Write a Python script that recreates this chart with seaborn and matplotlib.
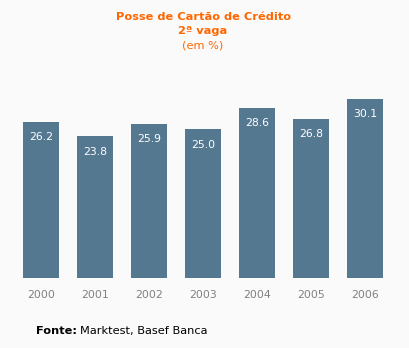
import matplotlib
matplotlib.use("Agg")
import matplotlib.pyplot as plt
import seaborn as sns
import pandas as pd

years = ["2000", "2001", "2002", "2003", "2004", "2005", "2006"]
values = [26.2, 23.8, 25.9, 25.0, 28.6, 26.8, 30.1]
labels = ["26.2", "23.8", "25.9", "25.0", "28.6", "26.8", "30.1"]

sns.set_theme(style="white")
plt.rcParams['font.family'] = ['DejaVu Sans']

bg = "#fafafa"
W, H = 409, 348
fig = plt.figure(figsize=(W / 100, H / 100), dpi=100, facecolor=bg)
ymax = 33.0
ppu = 5.95
top_px = 278 - ymax * ppu
ax = fig.add_axes([14 / W, 1 - 278 / H, (392 - 14) / W, (278 - top_px) / H])
ax.set_facecolor(bg)

df = pd.DataFrame({"year": years, "value": values})
sns.barplot(data=df, x="year", y="value", color="#557891", saturation=1,
            width=0.667, ax=ax, edgecolor="none")
ax.set_xlim(-0.5, 6.5)
ax.set_ylim(0, ymax)
for s in ax.spines.values():
    s.set_visible(False)
ax.set_yticks([])
ax.set_xlabel("")
ax.set_ylabel("")
ax.tick_params(axis="x", length=0, pad=9, labelsize=7.8, labelcolor="#808080")

for i, (v, lab) in enumerate(zip(values, labels)):
    ax.annotate(lab, (i, v), xytext=(0, -11), textcoords="offset points",
                ha="center", va="center", color="white", fontsize=7.8)

fig.text(203 / W, 1 - 17 / H, "Posse de Cartão de Crédito", ha="center", va="center",
         color="#ff6600", fontsize=8.2, fontweight="bold")
fig.text(203 / W, 1 - 31 / H, "2ª vaga", ha="center", va="center",
         color="#ff6600", fontsize=8.2, fontweight="bold")
fig.text(203 / W, 1 - 45 / H, "(em %)", ha="center", va="center",
         color="#ff6600", fontsize=8.2)

t = fig.text(36 / W, 1 - 331 / H, "Fonte:", ha="left", va="center",
             color="black", fontsize=8.2, fontweight="bold")
fig.canvas.draw()
bb = t.get_window_extent()
fig.text(bb.x1 / W + 3 / W, 1 - 331 / H, "Marktest, Basef Banca", ha="left", va="center",
         color="black", fontsize=8.2)

fig.savefig("out.png", dpi=100, facecolor=bg)
